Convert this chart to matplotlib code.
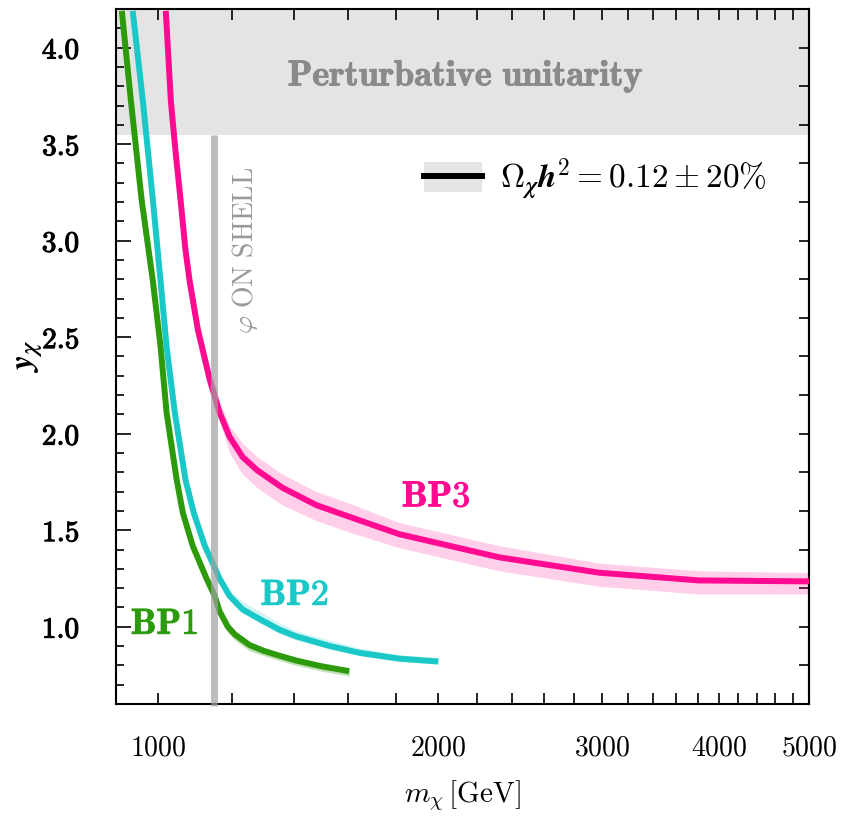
import numpy as np
import matplotlib
matplotlib.use("Agg")
import matplotlib.pyplot as plt
import matplotlib.patheffects as pe
from matplotlib.ticker import FixedLocator, FuncFormatter, MultipleLocator
from matplotlib.patches import Patch
from matplotlib.lines import Line2D

plt.rcParams['mathtext.fontset'] = 'cm'
plt.rcParams['font.family'] = ['DejaVu Serif']

# --- data ---
bp1_m = [915, 936, 961, 988, 1007, 1022, 1048, 1064, 1090, 1128, 1151, 1165, 1189, 1210, 1255, 1300, 1351, 1408, 1500, 1605]
bp1_y = [4.19, 3.72, 3.21, 2.79, 2.45, 2.11, 1.76, 1.59, 1.42, 1.25, 1.16, 1.08, 1.00, 0.96, 0.905, 0.875, 0.85, 0.825, 0.795, 0.77]
bp1_lo = [4.19, 3.72, 3.21, 2.79, 2.45, 2.11, 1.76, 1.59, 1.41, 1.24, 1.14, 1.06, 0.97, 0.93, 0.875, 0.85, 0.825, 0.80, 0.77, 0.745]
bp1_hi = [4.26, 3.78, 3.26, 2.83, 2.48, 2.14, 1.78, 1.61, 1.44, 1.27, 1.18, 1.09, 1.01, 0.97, 0.915, 0.885, 0.86, 0.835, 0.80, 0.775]

bp2_m = [940, 964, 988, 1007, 1022, 1043, 1071, 1093, 1123, 1165, 1194, 1233, 1286, 1350, 1408, 1530, 1646, 1815, 2000]
bp2_y = [4.19, 3.72, 3.21, 2.79, 2.45, 2.11, 1.76, 1.59, 1.42, 1.25, 1.16, 1.09, 1.04, 0.985, 0.95, 0.90, 0.865, 0.835, 0.82]
bp2_lo = [4.19, 3.72, 3.21, 2.79, 2.45, 2.11, 1.76, 1.59, 1.41, 1.24, 1.14, 1.07, 1.02, 0.965, 0.93, 0.885, 0.85, 0.82, 0.805]
bp2_hi = [4.26, 3.78, 3.26, 2.83, 2.48, 2.14, 1.78, 1.61, 1.44, 1.27, 1.19, 1.13, 1.08, 1.02, 0.98, 0.93, 0.89, 0.855, 0.84]

bp3_m = [1020, 1033, 1045, 1058, 1071, 1082, 1104, 1137, 1165, 1194, 1233, 1279, 1361, 1480, 1605, 1815, 2323, 2976, 3806, 5000]
bp3_y = [4.19, 3.72, 3.46, 3.21, 2.95, 2.79, 2.54, 2.28, 2.11, 1.985, 1.88, 1.81, 1.72, 1.63, 1.57, 1.48, 1.36, 1.28, 1.24, 1.235]
bp3_lo = [4.19, 3.72, 3.46, 3.21, 2.95, 2.79, 2.53, 2.26, 2.07, 1.90, 1.79, 1.72, 1.63, 1.55, 1.49, 1.41, 1.29, 1.21, 1.17, 1.17]
bp3_hi = [4.32, 3.84, 3.57, 3.31, 3.04, 2.87, 2.61, 2.34, 2.17, 2.04, 1.95, 1.88, 1.79, 1.70, 1.64, 1.54, 1.42, 1.33, 1.29, 1.28]

unitarity_y = np.sqrt(4 * np.pi)
onshell_m = 1150

x_major = [1000, 2000, 3000, 4000, 5000]
x_minor = list(range(1200, 5000, 200))

colors = {'BP1': '#2d9a0c', 'BP2': '#1ac8c8', 'BP3': '#ff0a91'}


def thicken(c, w=0.7):
    # cm bold is lighter than the bold-extended face of the original
    return [pe.withStroke(linewidth=w, foreground=c)]


fig = plt.figure(figsize=(8.5, 8.25), dpi=100)
ax = fig.add_axes([0.1365, 0.1467, 0.8153, 0.8424])
ax.set_xscale('log')
ax.set_xlim(902, 5000)
ax.set_ylim(0.6, 4.2)

# perturbative unitarity region
ax.axhspan(unitarity_y, 4.3, color='#e4e4e4', lw=0, zorder=0)
ax.text(2140, 3.85, r'$\mathbf{Perturbative\ unitarity}$', color='#8a8a8a',
        fontsize=26, ha='center', va='center', path_effects=thicken('#8a8a8a'))

for name, m, y, lo, hi, a in [('BP1', bp1_m, bp1_y, bp1_lo, bp1_hi, 0.3),
                              ('BP2', bp2_m, bp2_y, bp2_lo, bp2_hi, 0.2),
                              ('BP3', bp3_m, bp3_y, bp3_lo, bp3_hi, 0.2)]:
    c = colors[name]
    ax.fill_between(m, lo, hi, color=c, alpha=a, lw=0, zorder=2)
    ax.plot(m, y, color=c, lw=4.3, solid_capstyle='butt', solid_joinstyle='round', zorder=3)

# on-shell line
ax.plot([onshell_m, onshell_m], [0.59, unitarity_y], color='#a0a0a0', alpha=0.7,
        lw=5, solid_capstyle='butt', zorder=4, clip_on=False)
ax.text(1240, 2.95, r'$\varphi\ \mathrm{ON\ SHELL}$', color='#999999', fontsize=20,
        rotation=90, ha='center', va='center')

ax.text(1017, 1.015, r'$\mathbf{BP1}$', color=colors['BP1'], fontsize=26, ha='center', va='center',
        path_effects=thicken(colors['BP1']))
ax.text(1403, 1.165, r'$\mathbf{BP2}$', color=colors['BP2'], fontsize=26, ha='center', va='center',
        path_effects=thicken(colors['BP2']))
ax.text(1990, 1.675, r'$\mathbf{BP3}$', color=colors['BP3'], fontsize=26, ha='center', va='center',
        path_effects=thicken(colors['BP3']))

# ticks
ax.xaxis.set_major_locator(FixedLocator(x_major))
ax.xaxis.set_minor_locator(FixedLocator(x_minor))
ax.xaxis.set_major_formatter(FuncFormatter(lambda v, p: r'$%d$' % v))
ax.xaxis.set_minor_formatter(FuncFormatter(lambda v, p: ''))
ax.yaxis.set_major_locator(MultipleLocator(0.5))
ax.yaxis.set_minor_locator(MultipleLocator(0.1))
ax.yaxis.set_major_formatter(FuncFormatter(lambda v, p: r'$\mathbf{%.1f}$' % v))
ax.tick_params(axis='x', which='both', direction='in', top=True, length=8, width=1.2,
               labelsize=20, pad=22)
ax.tick_params(axis='y', which='major', direction='in', right=False, length=11, width=1.2,
               labelsize=21, pad=26)
ax.tick_params(axis='y', which='minor', direction='in', right=False, length=6, width=1.2)

sec = ax.secondary_yaxis('right')
sec.yaxis.set_major_locator(MultipleLocator(0.2))
sec.yaxis.set_minor_locator(FixedLocator([]))
sec.tick_params(direction='in', length=7, width=1.2, labelright=False)
sec.spines['right'].set_linewidth(1.5)

for s in ax.spines.values():
    s.set_linewidth(1.5)

ax.set_xlabel(r'$m_\chi\,[\mathrm{GeV}]$', fontsize=21, labelpad=12)

handle = (Patch(facecolor='#e4e4e4', edgecolor='none'), Line2D([], [], color='black', lw=4.3))
leg_kw = dict(loc='center left', bbox_to_anchor=(0.444, 0.754), frameon=False, fontsize=24,
              borderpad=0, borderaxespad=0, handlelength=1.74, handleheight=1.0, handletextpad=0.55)

# bold italic math if the font set supports it, plain italic otherwise
try:
    ax.set_ylabel(r'$\mathbfit{y}_{\mathbfit{\chi}}$', fontsize=24, labelpad=-2)
    ax.legend([handle], [r'$\mathbf{\Omega}_{\mathbfit{\chi}}\mathbfit{h}^{\mathbf{2}} = 0.12 \pm 20\%$'], **leg_kw)
    fig.canvas.draw()
except Exception:
    ax.set_ylabel(r'$y_\chi$', fontsize=24, labelpad=-2)
    ax.legend([handle], [r'$\mathbf{\Omega}_{\chi}h^2 = 0.12 \pm 20\%$'], **leg_kw)
    fig.canvas.draw()

for t in ax.yaxis.get_major_ticks():
    t.label1.set_path_effects(thicken('black', 0.8))

fig.savefig('out.png', dpi=100)
